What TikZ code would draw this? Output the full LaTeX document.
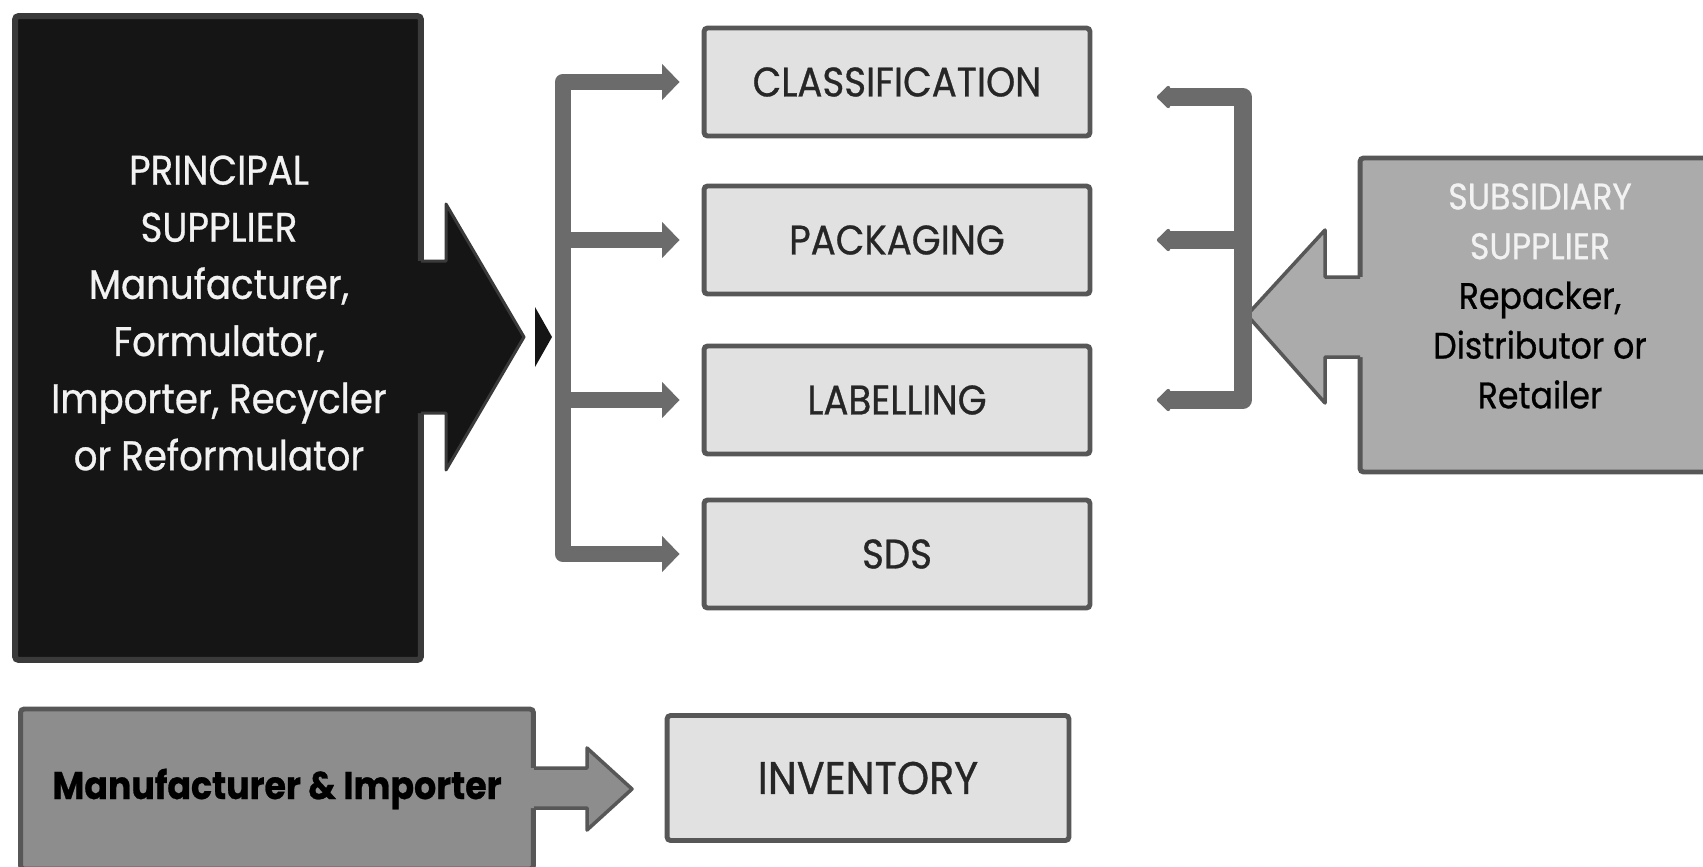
\documentclass[tikz,border=0pt]{standalone}
\usepackage{fontspec}
\setmainfont{Poppins}[FakeStretch=0.9,FakeBold=0.7]
\usetikzlibrary{arrows.meta,calc}
\definecolor{pfill}{HTML}{151515}
\definecolor{pedge}{HTML}{3A3A3A}
\definecolor{lfill}{HTML}{E1E1E1}
\definecolor{ledge}{HTML}{575757}
\definecolor{brgray}{HTML}{6B6B6B}
\definecolor{sfill}{HTML}{ABABAB}
\definecolor{mfill}{HTML}{8D8D8D}
\definecolor{txt}{HTML}{262626}
\definecolor{subhead}{HTML}{F2F2F2}

\begin{document}
\begin{tikzpicture}[x=0.02cm,y=-0.02cm]
\tikzstyle{box}=[draw=ledge,line width=2.8pt,fill=lfill,rounded corners=2pt,minimum width=7.72cm,minimum height=2.16cm,text=txt,font=\fontsize{23.5}{28}\selectfont]
\tikzstyle{pbox}=[draw=pedge,line width=3.4pt,fill=pfill,rounded corners=2pt]
\tikzstyle{sbox}=[draw=ledge,line width=2.8pt,fill=sfill,rounded corners=2pt]
\tikzstyle{lbr}=[draw=brgray,line width=9.6pt,line join=round,>={Triangle[width=20pt,length=10pt]},->]
\tikzstyle{rbr}=[draw=brgray,line width=10pt,line join=round,>={Triangle[round,width=15pt,length=8pt]},->]
\useasboundingbox (0,0) rectangle (1703,866);
\fill[white] (0,0) rectangle (1703,866);

\node[pbox,minimum width=8.12cm,minimum height=12.88cm] (ps) at (218,338) {};
\fill[pfill] (415,261) -- (446,261) -- (446,204) -- (524,337) -- (446,470) -- (446,413) -- (415,413) -- cycle;
\draw[pedge,line width=1.7pt,line join=round] (421,261) -- (446,261) -- (446,204) -- (524,337) -- (446,470) -- (446,413) -- (421,413);
\fill[pfill] (535,307) -- (552,337) -- (535,367) -- cycle;
\node[text=subhead,align=center,font=\fontsize{23.5}{32.5}\selectfont] (pst) at (219,313) {PRINCIPAL\\SUPPLIER\\Manufacturer,\\Formulator,\\Importer, Recycler\\or Reformulator};

\node[box] (cls) at (897,82) {CLASSIFICATION};
\node[box] (pkg) at (897,240) {PACKAGING};
\node[box] (lab) at (897,400) {LABELLING};
\node[box] (sds) at (897,554) {SDS};

\coordinate (lsp) at (563,0);
\draw[lbr,<->] ([xshift=-0.44cm]cls.west) -| (lsp |- sds.west) -- ([xshift=-0.44cm]sds.west);
\draw[lbr] (lsp |- pkg.west) -- ([xshift=-0.44cm]pkg.west);
\draw[lbr] (lsp |- lab.west) -- ([xshift=-0.44cm]lab.west);

\node[sbox,minimum width=7.2cm,minimum height=6.28cm] (ss) at (1540,315) {};
\fill[sfill] (1365,277) -- (1325,277) -- (1325,230) -- (1247,315) -- (1325,403) -- (1325,357) -- (1365,357) -- cycle;
\draw[ledge,line width=2pt,line join=round] (1360,277) -- (1325,277) -- (1325,230) -- (1247,315) -- (1325,403) -- (1325,357) -- (1360,357);
\node[text=black,align=center,font=\fontsize{21}{28.3}\selectfont] (sst) at (1540,296) {\textcolor{subhead}{SUBSIDIARY}\\\textcolor{subhead}{SUPPLIER}\\Repacker,\\Distributor or\\Retailer};

\coordinate (rsp) at (1243,0);
\draw[rbr,<->] ([xshift=1.29cm,yshift=-0.3cm]cls.east) -| (rsp |- lab.east) -- ([xshift=1.29cm]lab.east);
\draw[rbr] (rsp |- pkg.east) -- ([xshift=1.29cm]pkg.east);

\node[sbox,fill=mfill,minimum width=10.26cm,minimum height=3.2cm,font=\fontsize{22}{26}\selectfont\bfseries,text=black] (mi) at (277,789) {Manufacturer \& Importer};
\fill[mfill] (528,768) -- (587,768) -- (587,748) -- (632,789) -- (587,830) -- (587,808) -- (528,808) -- cycle;
\draw[ledge,line width=2pt,line join=round] (534,768) -- (587,768) -- (587,748) -- (632,789) -- (587,830) -- (587,808) -- (534,808);
\node[box,minimum width=8.04cm,minimum height=2.5cm,font=\fontsize{26}{30}\selectfont] (inv) at (868,778) {INVENTORY};
\end{tikzpicture}
\end{document}
